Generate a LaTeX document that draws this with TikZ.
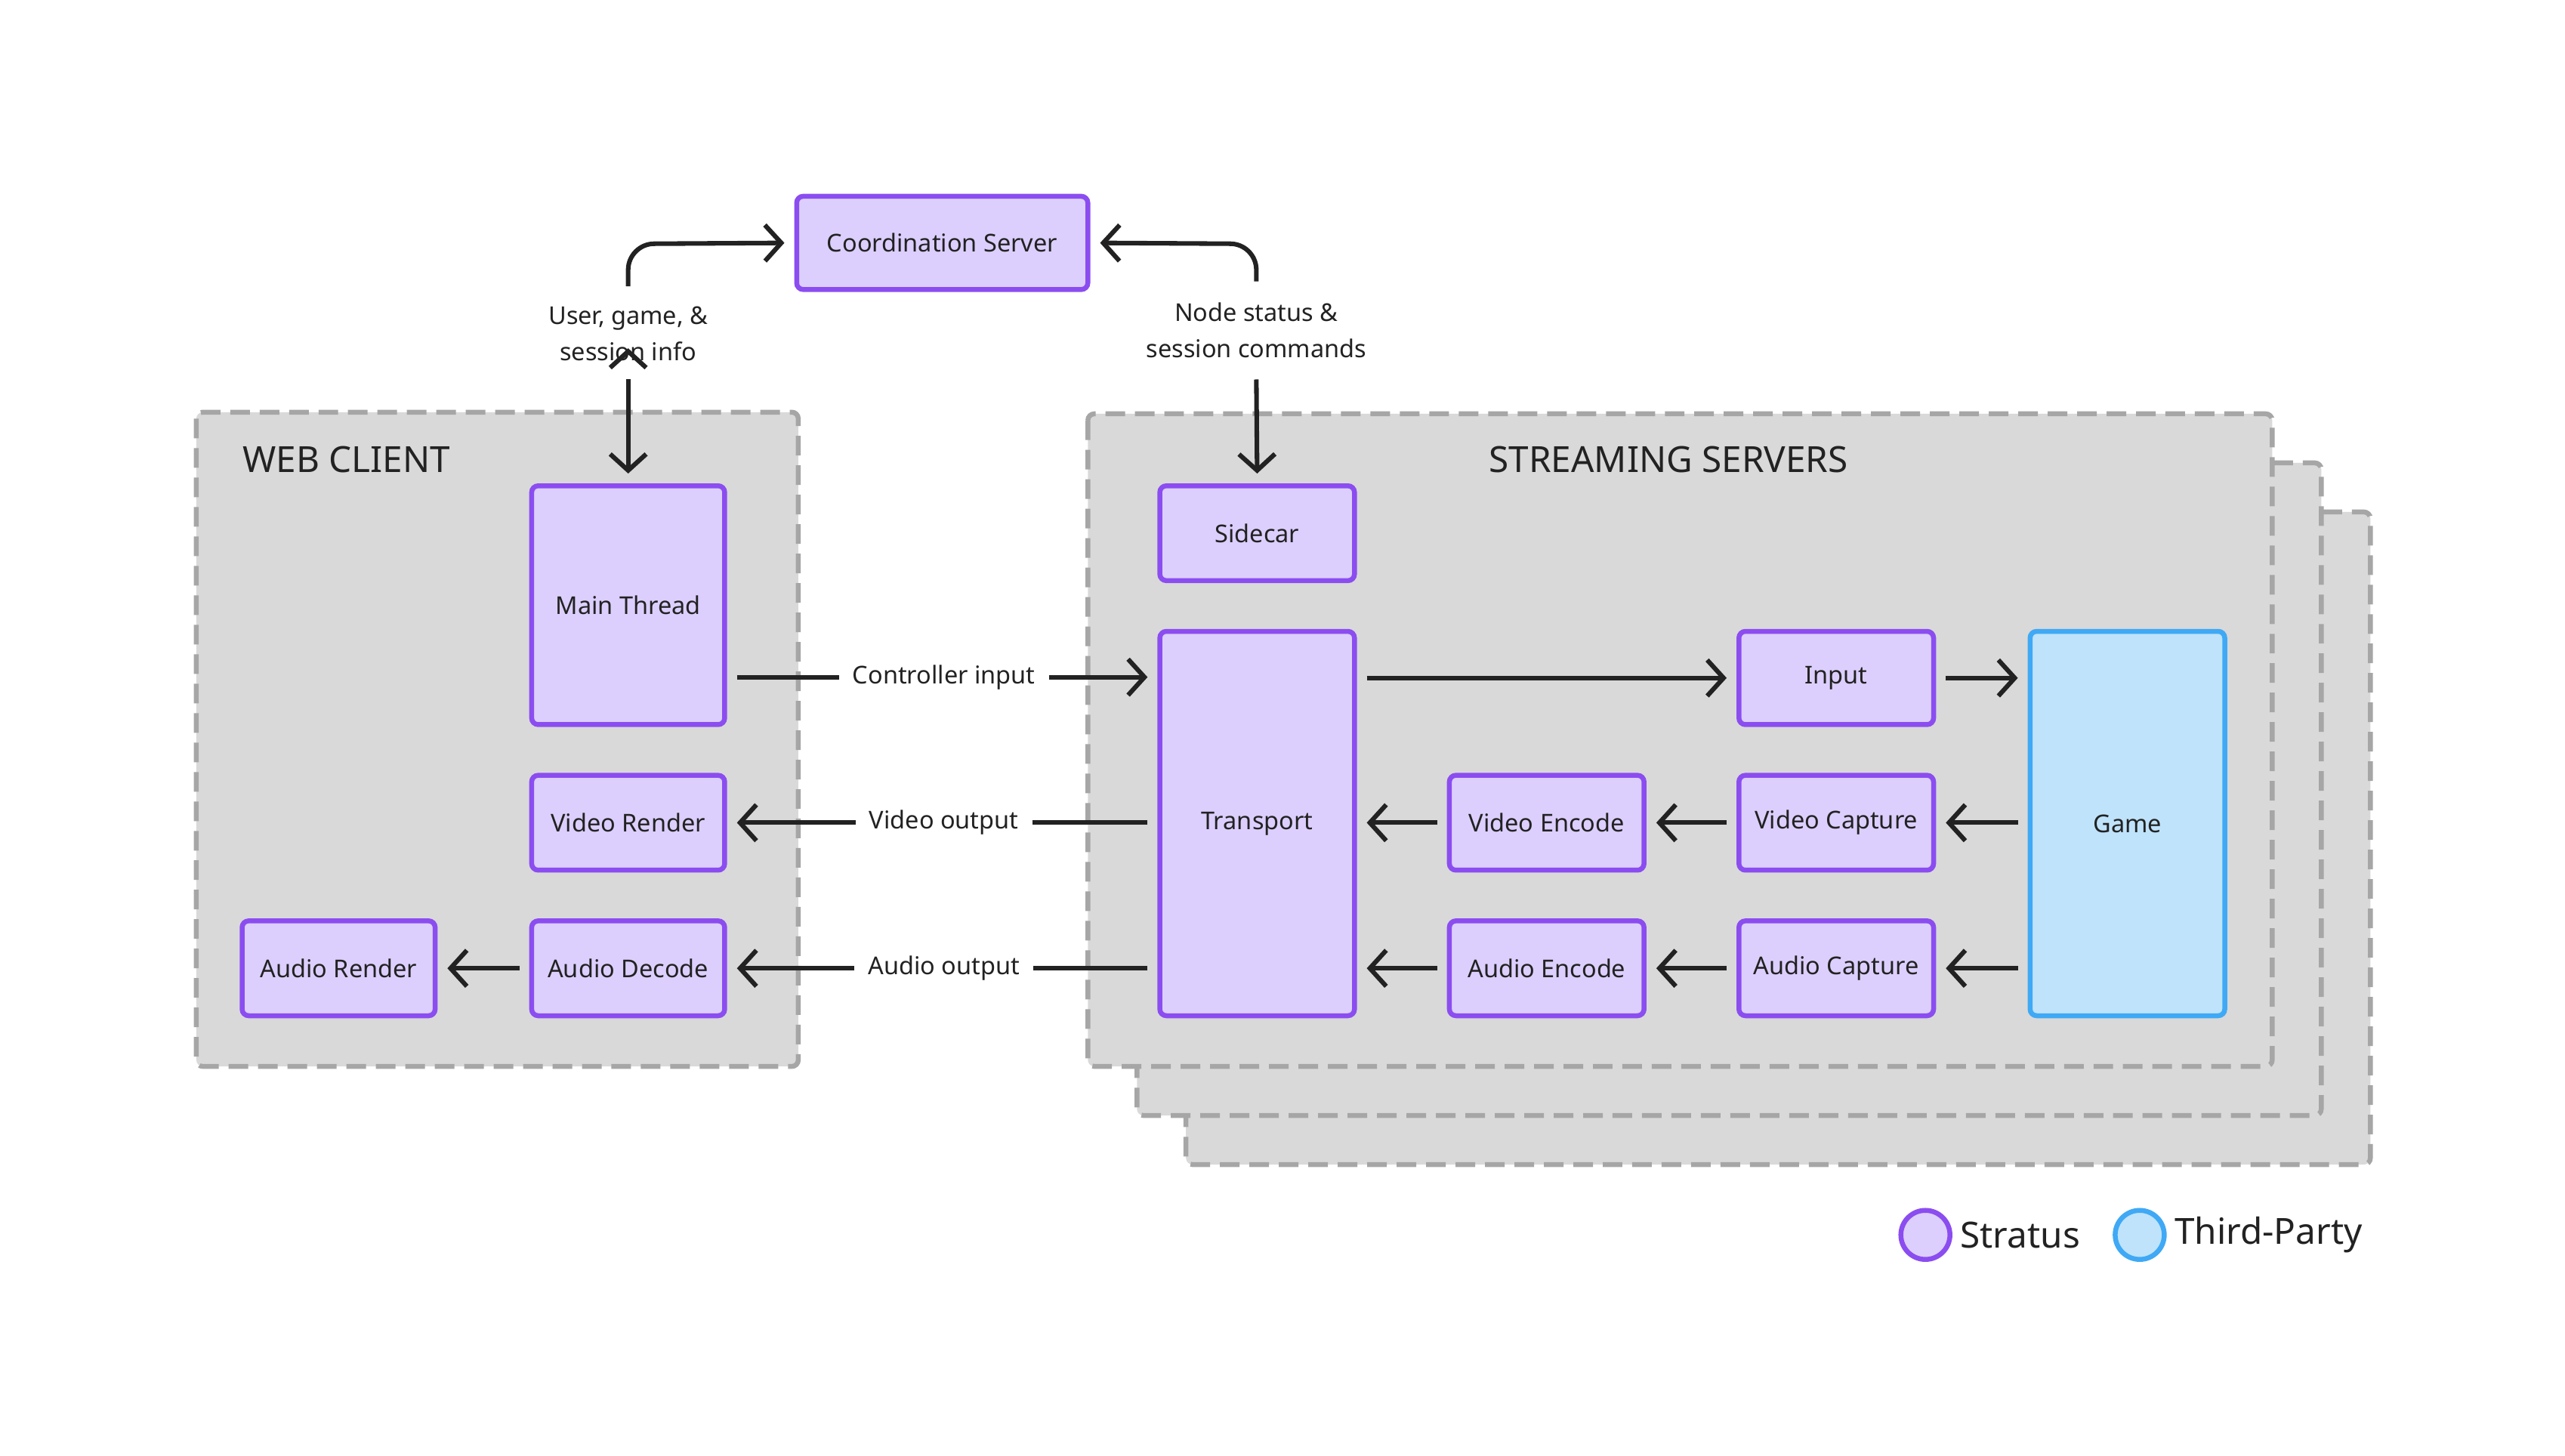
\documentclass[tikz,border=0pt]{standalone}
\usepackage{fontspec}
\setmainfont{Noto Sans}
\usetikzlibrary{arrows.meta}
\definecolor{pfill}{HTML}{DCCFFD}
\definecolor{pline}{HTML}{8B4DF0}
\definecolor{bfill}{HTML}{BFE3FB}
\definecolor{bline}{HTML}{3FA9F5}
\definecolor{gfill}{HTML}{D9D9D9}
\definecolor{gline}{HTML}{A6A6A6}
\definecolor{ink}{HTML}{222222}
\begin{document}
\begin{tikzpicture}[x=0.5pt,y=-0.5pt,
  pbox/.style={draw=pline,fill=pfill,line width=1.5pt,rounded corners=2pt,inner sep=0pt,font=\fontsize{7.5}{9}\selectfont,text=ink},
  bbox/.style={pbox,draw=bline,fill=bfill},
  grp/.style={draw=gline,fill=gfill,line width=1.5pt,dash pattern=on 6pt off 3pt,rounded corners=2pt},
  arr/.style={draw=ink,line width=1.4pt,-{Straight Barb[length=5pt,width=11pt,line width=1.4pt]}},
  ln/.style={draw=ink,line width=1.4pt},
  lbl/.style={font=\fontsize{7.5}{11}\selectfont,text=ink,align=center,inner sep=1pt},
  ttl/.style={font=\fontsize{11}{13}\selectfont\bfseries,text=ink,anchor=west,inner sep=0pt}]
\useasboundingbox (0,0) rectangle (1568,890);
\fill[white] (0,0) rectangle (1568,890);
% groups
\draw[grp] (725,313) rectangle (1449,712);
\draw[grp] (695,283) rectangle (1419,682);
\draw[grp] (665,253) rectangle (1389,652);
\draw[grp] (120,252) rectangle (488,652);
\node[ttl] (wc) at (148,281) {WEB CLIENT};
\node[ttl,anchor=center] (ss) at (1020,281) {STREAMING SERVERS};
% boxes
\node[pbox,minimum width=89pt,minimum height=28.5pt] (cs) at (576,148.5) {Coordination Server};
\node[pbox,minimum width=59pt,minimum height=73pt] (mt) at (384,370) {Main Thread};
\node[pbox,minimum width=59pt,minimum height=29pt] (vr) at (384,503) {Video Render};
\node[pbox,minimum width=59pt,minimum height=29pt] (ad) at (384,592) {Audio Decode};
\node[pbox,minimum width=59pt,minimum height=29pt] (ar) at (207,592) {Audio Render};
\node[pbox,minimum width=59.5pt,minimum height=29pt] (sc) at (768.5,326) {Sidecar};
\node[pbox,minimum width=59.5pt,minimum height=117.5pt] (tr) at (768.5,503.5) {Transport};
\node[pbox,minimum width=59.5pt,minimum height=28.5pt] (in) at (1122.5,414.5) {Input};
\node[pbox,minimum width=59.5pt,minimum height=29pt] (ve) at (945.5,503) {Video Encode};
\node[pbox,minimum width=59.5pt,minimum height=29pt] (ae) at (945.5,592) {Audio Encode};
\node[pbox,minimum width=59.5pt,minimum height=29pt] (vc) at (1122.5,503) {Video Capture};
\node[pbox,minimum width=59.5pt,minimum height=29pt] (ac) at (1122.5,592) {Audio Capture};
\node[bbox,minimum width=59.5pt,minimum height=117.5pt] (gm) at (1300.5,503.5) {Game};
% labels
\node[lbl] (l1) at (384,204) {User, game, \&\\session info};
\node[lbl] (l2) at (768,202) {Node status \&\\session commands};
\node[lbl] (l3) at (577,414) {Controller input};
\node[lbl] (l4) at (577,503) {Video output};
\node[lbl] (l5) at (577,592) {Audio output};
% coordination arrows
\coordinate (c1) at (384,175);
\coordinate (c2) at (768,172);
\draw[arr] (c1) -- (384,165) arc[start angle=180,end angle=270,radius=16] -- ([xshift=-3pt]cs.west);
\draw[arr] (c2) -- (768,165) arc[start angle=0,end angle=-90,radius=16] -- ([xshift=3pt]cs.east);
\draw[arr] (l1.south) ++(0,-10) coordinate (c3);
\draw[arr] (384,232) -- ([yshift=3pt]mt.north);
\draw[arr] (768,232) -- ([yshift=3pt]sc.north);
% controller/video/audio
\draw[ln] ([xshift=3pt]mt.east |- l3) -- ([xshift=-3pt]l3.west);
\draw[arr] ([xshift=3pt]l3.east) -- ([xshift=-3pt]tr.west |- l3);
\draw[ln] ([xshift=-3pt]tr.west |- l4) -- ([xshift=3pt]l4.east);
\draw[arr] ([xshift=-3pt]l4.west) -- ([xshift=3pt]vr.east);
\draw[ln] ([xshift=-3pt]tr.west |- l5) -- ([xshift=3pt]l5.east);
\draw[arr] ([xshift=-3pt]l5.west) -- ([xshift=3pt]ad.east);
\draw[arr] ([xshift=-3pt]ad.west) -- ([xshift=3pt]ar.east);
% server internal
\draw[arr] ([xshift=3pt]tr.east |- in) -- ([xshift=-3pt]in.west);
\draw[arr] ([xshift=3pt]in.east) -- ([xshift=-3pt]gm.west |- in);
\draw[arr] ([xshift=-3pt]gm.west |- vc) -- ([xshift=3pt]vc.east);
\draw[arr] ([xshift=-3pt]vc.west) -- ([xshift=3pt]ve.east);
\draw[arr] ([xshift=-3pt]ve.west) -- ([xshift=3pt]tr.east |- ve);
\draw[arr] ([xshift=-3pt]gm.west |- ac) -- ([xshift=3pt]ac.east);
\draw[arr] ([xshift=-3pt]ac.west) -- ([xshift=3pt]ae.east);
\draw[arr] ([xshift=-3pt]ae.west) -- ([xshift=3pt]tr.east |- ae);
% legend
\draw[draw=pline,fill=pfill,line width=1.5pt] (1177,755) circle[radius=15];
\node[anchor=west,inner sep=0pt,font=\fontsize{11}{13}\selectfont,text=ink] (lg1) at (1198,755) {Stratus};
\draw[draw=bline,fill=bfill,line width=1.5pt] (1308,755) circle[radius=15];
\node[anchor=west,inner sep=0pt,font=\fontsize{11}{13}\selectfont,text=ink] (lg2) at (1329,755) {Third-Party};
\end{tikzpicture}
\end{document}
